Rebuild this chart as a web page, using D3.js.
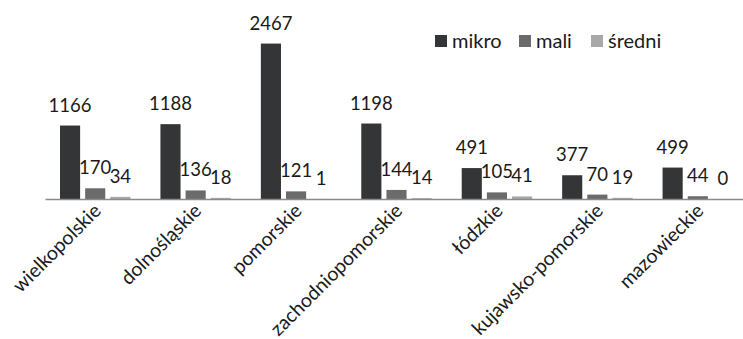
<!DOCTYPE html>
<html>
<head>
<meta charset="utf-8">
<script src="https://cdn.jsdelivr.net/npm/d3@7"></script>
<style>
  html, body { margin: 0; padding: 0; background: #fff; }
  svg { display: block; }
  text { font-family: Lato, "Open Sans", sans-serif; fill: #1a1a1a; }
</style>
</head>
<body>
<svg id="chart" width="743" height="339"></svg>
<script>
// Voivodeships along the x axis
const regions = ["wielkopolskie", "dolnośląskie", "pomorskie", "zachodniopomorskie",
                 "łódzkie", "kujawsko-pomorskie", "mazowieckie"];
// Series names and their values per voivodeship
const seriesNames = ["mikro", "mali", "średni"];
const mikro  = [1166, 1188, 2467, 1198, 491, 377, 499];
const mali   = [170, 136, 121, 144, 105, 70, 44];
const sredni = [34, 18, 1, 14, 41, 19, 0];
const seriesValues = [mikro, mali, sredni];
const colors = ["#333536", "#6b6b6b", "#a8a8a8"];

const svg = d3.select("#chart");
const baseY = 199;

const x = d3.scaleBand().domain(regions).range([45, 748]).paddingInner(0).paddingOuter(0);
const xs = d3.scaleBand().domain(seriesNames).range([15, x.bandwidth() - 15]).paddingInner(0.2);
const y = d3.scaleLinear().domain([0, 3000]).range([baseY, 10]);

const rows = regions.map((r, i) => ({
  region: r,
  vals: seriesNames.map((s, j) => ({ series: s, value: seriesValues[j][i], color: colors[j] }))
}));

const groups = svg.append("g").selectAll("g")
  .data(rows).join("g")
  .attr("transform", d => `translate(${x(d.region)},0)`);

groups.selectAll("rect")
  .data(d => d.vals).join("rect")
  .attr("x", d => xs(d.series))
  .attr("width", xs.bandwidth())
  .attr("y", d => y(d.value))
  .attr("height", d => baseY - y(d.value))
  .attr("fill", d => d.color);

groups.selectAll("text.val")
  .data(d => d.vals).join("text")
  .attr("class", "val")
  .attr("x", d => xs(d.series) + xs.bandwidth() / 2)
  .attr("y", d => y(d.value) - 14)
  .attr("text-anchor", "middle")
  .style("font-size", "18.5px")
  .text(d => d.value);

// Category axis: baseline only, rotated labels
const xAxis = svg.append("g")
  .attr("transform", `translate(0,${baseY})`)
  .call(d3.axisBottom(x).tickSize(0).tickPadding(0));
xAxis.select(".domain").attr("stroke", "#8a8a8a").attr("stroke-width", 1.5);
xAxis.selectAll(".tick text")
  .attr("font-family", "Lato, 'Open Sans', sans-serif")
  .style("font-size", "19.5px")
  .attr("fill", "#1a1a1a")
  .attr("text-anchor", "end")
  .attr("dy", 0)
  .attr("transform", "translate(7,13) rotate(-45)");

// Legend
const legend = svg.append("g").attr("transform", "translate(435,35)");
const offsets = [0, 84, 156];
const items = legend.selectAll("g").data(seriesNames).join("g")
  .attr("transform", (d, i) => `translate(${offsets[i]},0)`);
items.append("rect").attr("width", 12).attr("height", 12)
  .attr("fill", (d, i) => colors[i]);
items.append("text").attr("x", 17).attr("y", 12.5)
  .style("font-size", "20px").text(d => d);
</script>
</body>
</html>
